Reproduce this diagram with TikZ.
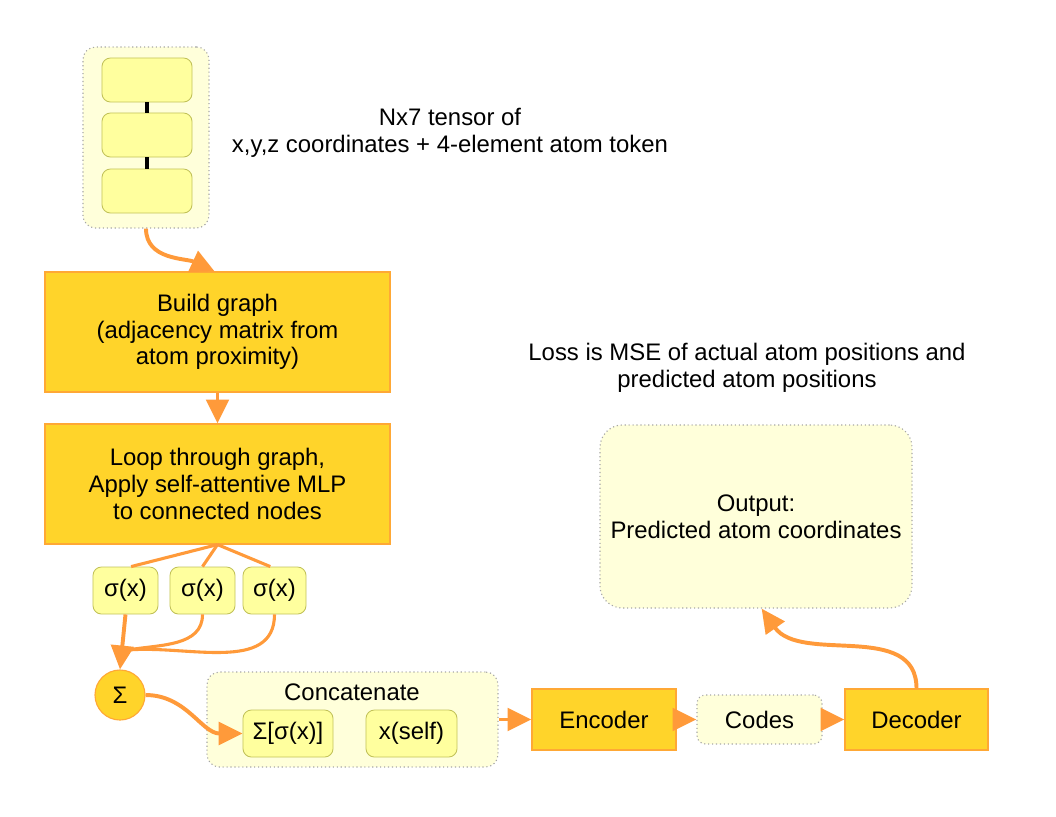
\documentclass[tikz,border=0pt]{standalone}
\usepackage{fontspec}
\setmainfont{Liberation Sans}
\usetikzlibrary{arrows.meta}
\definecolor{goldfill}{HTML}{FFD42A}
\definecolor{goldline}{HTML}{FFA835}
\definecolor{arrowc}{HTML}{FF9A3A}
\definecolor{palefill}{HTML}{FFFF9E}
\definecolor{paleline}{HTML}{C2C25A}
\definecolor{groupfill}{HTML}{FFFFDA}

\tikzset{
  goldbox/.style={draw=goldline, fill=goldfill, line width=0.8pt, align=center,
                  inner sep=0pt},
  palebox/.style={draw=paleline, fill=palefill, line width=0.6pt, rounded corners=6pt,
                  align=center, inner sep=0pt},
  groupbox/.style={draw=gray!70, fill=groupfill, dotted, line width=0.8pt,
                   align=center, inner sep=0pt},
  flow/.style={draw=arrowc, line width=2.8pt,
               -{Triangle[length=17pt,width=16pt]}},
  fork/.style={draw=arrowc, line width=2.2pt}
}

\begin{document}
\begin{tikzpicture}[x=0.025cm, y=0.025cm, font=\fontsize{17}{19}\selectfont]
\useasboundingbox (0,0) rectangle (1056,-816);

% input tensor
\node[groupbox, rounded corners=9pt, minimum width=3.15cm, minimum height=4.525cm] (inp) at (146,-137.5) {};
\node[palebox, minimum width=2.25cm, minimum height=1.1cm] (row1) at (147,-80) {};
\node[palebox, minimum width=2.25cm, minimum height=1.1cm] (row2) at (147,-135) {};
\node[palebox, minimum width=2.25cm, minimum height=1.1cm] (row3) at (147,-191) {};
\draw[line width=2.8pt] (row1.south) -- (row2.north);
\draw[line width=2.8pt] (row2.south) -- (row3.north);
\node[align=center] (tensor) at (450,-133) {Nx7 tensor of\\x,y,z coordinates + 4-element atom token};

% graph steps
\node[goldbox, minimum width=8.625cm, minimum height=3cm] (build) at (217.5,-332)
  {Build graph\\(adjacency matrix from\\atom proximity)};
\node[goldbox, minimum width=8.625cm, minimum height=3cm] (loop) at (217.5,-484)
  {Loop through graph,\\Apply self-attentive MLP\\ to connected nodes};

\node[palebox, minimum width=1.625cm, minimum height=1.175cm] (sig1) at (125.5,-590.5) {σ(x)};
\node[palebox, minimum width=1.625cm, minimum height=1.175cm] (sig2) at (202.5,-590.5) {σ(x)};
\node[palebox, minimum width=1.575cm, minimum height=1.175cm] (sig3) at (274.5,-590.5) {σ(x)};
\node[circle, draw=goldline, fill=goldfill, line width=0.8pt, minimum size=1.25cm, inner sep=0pt] (sum) at (120,-695) {Σ};
\coordinate (join) at (128,-650);

% concatenation
\node[groupbox, rounded corners=9pt, minimum width=7.275cm, minimum height=2.375cm] (concat) at (352.5,-719.5) {};
\node (cattext) at (352,-692) {Concatenate};
\node[palebox, minimum width=2.25cm, minimum height=1.175cm] (sumsig) at (288,-733.5) {Σ[σ(x)]};
\node[palebox, minimum width=2.275cm, minimum height=1.175cm] (self) at (411.5,-733.5) {x(self)};

% autoencoder
\node[goldbox, minimum width=3.6cm, minimum height=1.525cm] (enc) at (604,-719.5) {Encoder};
\node[groupbox, rounded corners=6pt, minimum width=3.125cm, minimum height=1.225cm] (codes) at (759.5,-719.5) {Codes};
\node[goldbox, minimum width=3.575cm, minimum height=1.525cm] (dec) at (916.5,-719.5) {Decoder};
\node[groupbox, rounded corners=16pt, minimum width=7.8cm, minimum height=4.575cm] (out) at (756,-516.5)
  {Output:\\Predicted atom coordinates};
\node[align=center] (loss) at (747,-368) {Loss is MSE of actual atom positions and\\predicted atom positions};

% connectors
\draw[flow] (inp.south) to[out=-90, in=155] ([xshift=-2]build.north);
\draw[flow] (build.south) -- (loop.north);
\draw[fork] (loop.south) -- ([xshift=4]sig1.north);
\draw[fork] (loop.south) -- (sig2.north);
\draw[fork] (loop.south) -- ([xshift=-3]sig3.north);
\draw[flow] (sig1.south) -- (sum.north);
\draw[fork] (sig2.south) to[out=-90, in=10] (join);
\draw[fork] (sig3.south) to[out=-90, in=5] (join);
\draw[flow] (sum.east) to[out=0, in=180] (sumsig.west);
\draw[flow] (concat.east) -- (enc.west);
\draw[flow] (enc.east) -- (codes.west);
\draw[flow] (codes.east) -- (dec.west);
\draw[flow] (dec.north) to[out=90, in=-55] ([xshift=4]out.south);
\end{tikzpicture}
\end{document}
